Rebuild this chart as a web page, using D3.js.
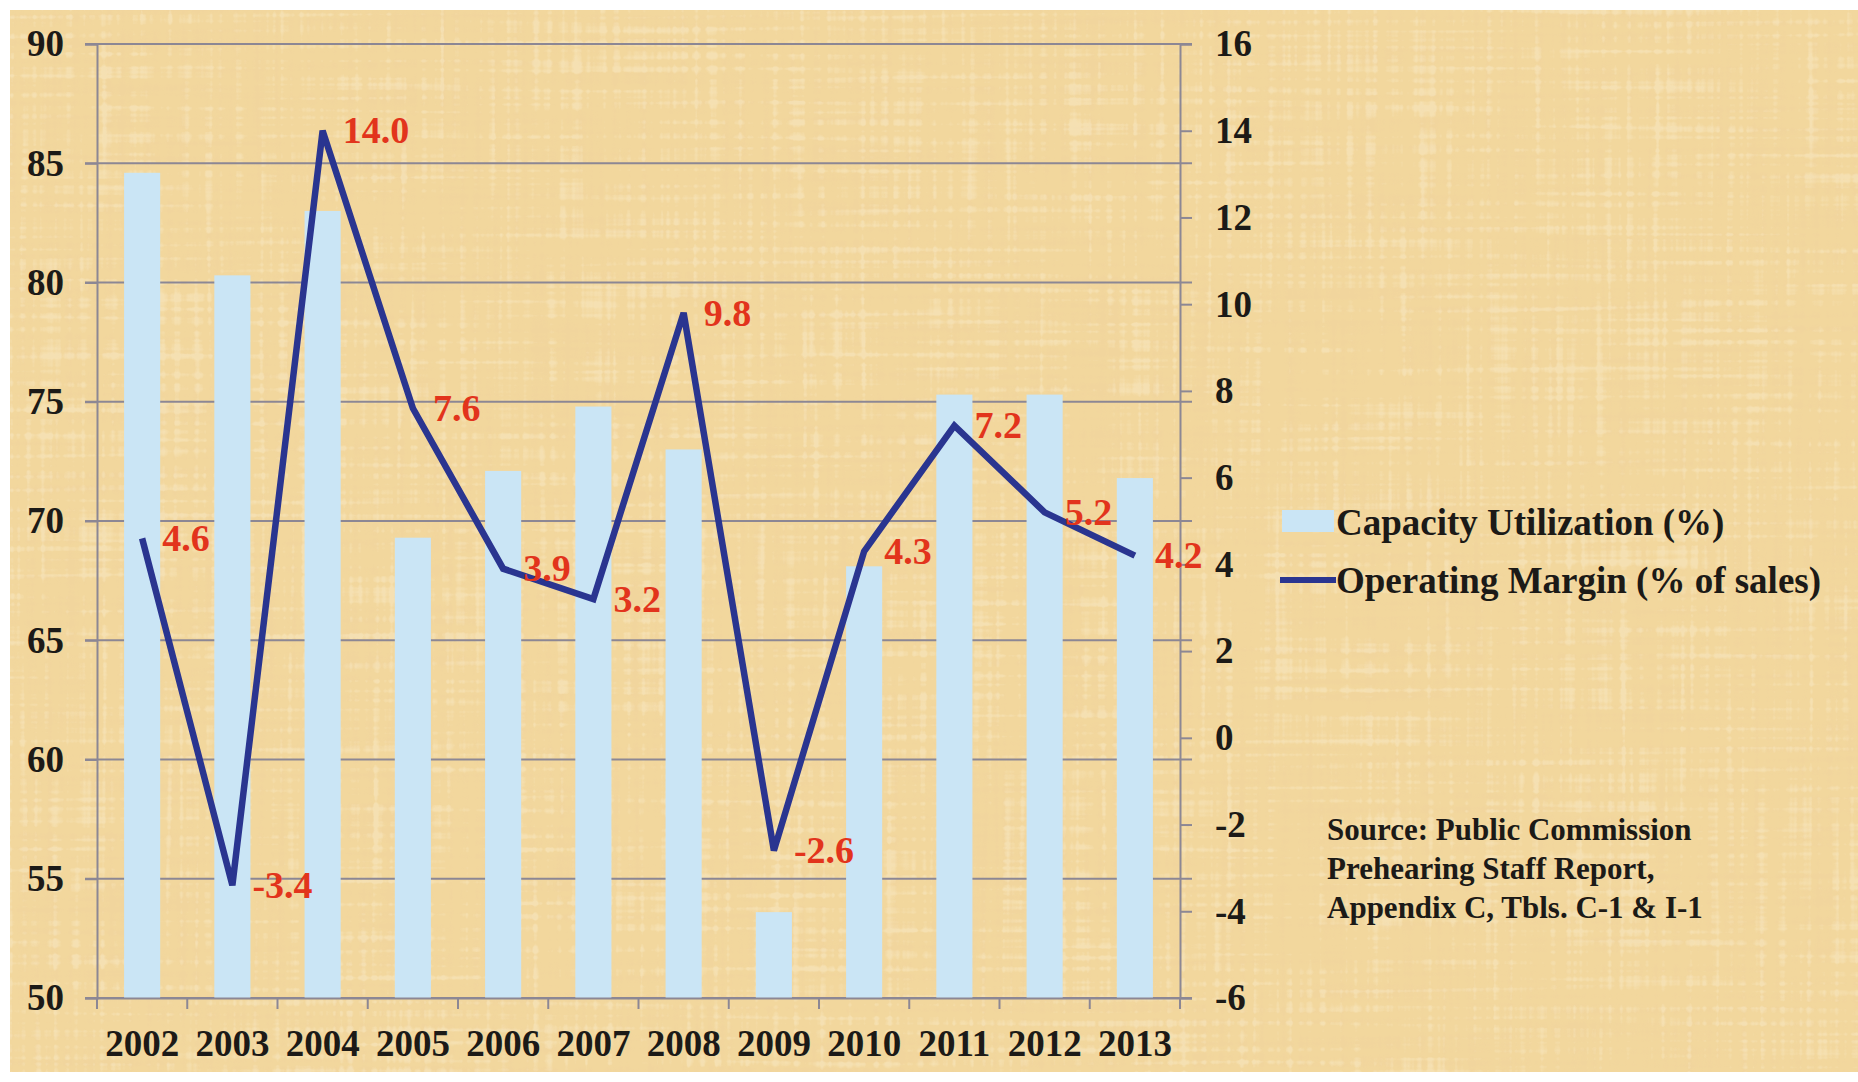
<!DOCTYPE html>
<html>
<head>
<meta charset="utf-8">
<script src="https://cdn.jsdelivr.net/npm/d3@7"></script>
<style>
  body { margin: 0; background: #ffffff; }
  svg { display: block; }
  text { font-family: 'Liberation Serif', 'Times New Roman', serif; font-weight: bold; }
</style>
</head>
<body>
<svg id="main"></svg>
<script>
// chart data
const years = ['2002', '2003', '2004', '2005', '2006', '2007', '2008', '2009', '2010', '2011', '2012', '2013']
const capacity = [84.6, 80.3, 83.0, 69.3, 72.1, 74.8, 73.0, 53.6, 68.1, 75.3, 75.3, 71.8]
const opMargin = [4.6, -3.4, 14.0, 7.6, 3.9, 3.2, 9.8, -2.6, 4.3, 7.2, 5.2, 4.2]
const leftTicks = [50, 55, 60, 65, 70, 75, 80, 85, 90]
const rightTicks = [-6, -4, -2, 0, 2, 4, 6, 8, 10, 12, 14, 16]
const legendLabels = ['Capacity Utilization (%)', 'Operating Margin (% of sales)']
const sourceLines = ['Source: Public Commission', 'Prehearing Staff Report,', 'Appendix C, Tbls. C-1 & I-1']

let width = 1858
let height = 1082
let plotLeft = 97
let plotRight = 1180
let plotTop = 44
let plotBottom = 998

let gridColor = '#8c8794'
let inkColor = '#1c1a17'

let svg = d3.select('#main')
    .attr('width', width)
    .attr('height', height)

let xScale, yLeft, yRight

// papyrus-ish paper: two stretched noise fields, one dark, one light
const paperFilter = (defs, id, seedH, seedV, rgb, a, b) => {
    let f = defs.append('filter').attr('id', id)
        .attr('x', 0).attr('y', 0).attr('width', '100%').attr('height', '100%')
    f.append('feTurbulence').attr('type', 'fractalNoise')
        .attr('baseFrequency', '0.004 0.15').attr('numOctaves', 2).attr('seed', seedH).attr('result', 'h')
    f.append('feTurbulence').attr('type', 'fractalNoise')
        .attr('baseFrequency', '0.15 0.004').attr('numOctaves', 2).attr('seed', seedV).attr('result', 'v')
    f.append('feComposite').attr('in', 'h').attr('in2', 'v').attr('operator', 'arithmetic')
        .attr('k2', 0.5).attr('k3', 0.5).attr('result', 'mix')
    f.append('feColorMatrix').attr('in', 'mix').attr('type', 'matrix')
        .attr('values', `0 0 0 0 ${rgb[0]}  0 0 0 0 ${rgb[1]}  0 0 0 0 ${rgb[2]}  ${a} 0 0 0 ${b}`)
}

const drawBackground = () => {
    let defs = svg.append('defs')
    paperFilter(defs, 'paperDark', 3, 7, [0.88, 0.66, 0.34], 7, -3.4)
    paperFilter(defs, 'paperLight', 11, 19, [0.99, 0.93, 0.76], -7, 3.3)

    let bg = svg.append('g')
    bg.append('rect')
        .attr('x', 10).attr('y', 10)
        .attr('width', width - 10).attr('height', height - 20)
        .attr('fill', '#f2d79d')
    bg.append('rect')
        .attr('x', 10).attr('y', 10)
        .attr('width', width - 10).attr('height', height - 20)
        .attr('filter', 'url(#paperDark)')
        .attr('opacity', 0.5)
    bg.append('rect')
        .attr('x', 10).attr('y', 10)
        .attr('width', width - 10).attr('height', height - 20)
        .attr('filter', 'url(#paperLight)')
        .attr('opacity', 0.3)
}

const generateScales = () => {
    xScale = d3.scaleBand()
        .domain(years)
        .range([plotLeft, plotRight])
        .padding(0)
    yLeft = d3.scaleLinear()
        .domain([50, 90])
        .range([plotBottom, plotTop])
    yRight = d3.scaleLinear()
        .domain([-6, 16])
        .range([plotBottom, plotTop])
}

const drawGrid = () => {
    svg.append('g')
        .selectAll('line')
        .data(leftTicks)
        .enter()
        .append('line')
        .attr('x1', plotLeft - 12)
        .attr('x2', plotRight + 12)
        .attr('y1', d => yLeft(d))
        .attr('y2', d => yLeft(d))
        .attr('stroke', gridColor)
        .attr('stroke-width', 2)
}

const plotBars = () => {
    let bw = xScale.bandwidth()
    svg.append('g')
        .selectAll('rect')
        .data(years)
        .enter()
        .append('rect')
        .attr('x', d => xScale(d) + bw * 0.3)
        .attr('width', bw * 0.4)
        .attr('y', (d, i) => yLeft(capacity[i]))
        .attr('height', (d, i) => yLeft(50) - yLeft(capacity[i]))
        .attr('fill', '#cae5f5')
}

const drawAxes = () => {
    // left
    let yAxisL = d3.axisLeft(yLeft).tickValues(leftTicks).tickSize(12)
    let gl = svg.append('g')
        .attr('transform', `translate(${plotLeft}, 0)`)
        .call(yAxisL)
    gl.selectAll('line').attr('stroke', gridColor).attr('stroke-width', 2)
    gl.select('.domain').attr('stroke', gridColor).attr('stroke-width', 2)
    gl.selectAll('text')
        .attr('font-size', 37).attr('fill', inkColor)
        .attr('x', -33)

    // right
    let yAxisR = d3.axisRight(yRight).tickValues(rightTicks).tickSize(12)
    let gr = svg.append('g')
        .attr('transform', `translate(${plotRight}, 0)`)
        .call(yAxisR)
    gr.selectAll('line').attr('stroke', gridColor).attr('stroke-width', 2)
    gr.select('.domain').attr('stroke', gridColor).attr('stroke-width', 2)
    gr.selectAll('text')
        .attr('font-size', 37).attr('fill', inkColor)
        .attr('x', 35)
        .text(d => d)

    // bottom
    let xAxis = d3.axisBottom(xScale).tickSize(0).tickPadding(32)
    let gb = svg.append('g')
        .attr('transform', `translate(0, ${plotBottom})`)
        .call(xAxis)
    gb.select('.domain').attr('stroke', gridColor).attr('stroke-width', 2)
    gb.selectAll('text').attr('font-size', 37).attr('fill', inkColor)

    let bounds = years.map(d => xScale(d)).concat([xScale.range()[1]])
    gb.selectAll('.bound')
        .data(bounds)
        .enter()
        .append('line')
        .attr('class', 'bound')
        .attr('x1', d => d).attr('x2', d => d)
        .attr('y1', 0).attr('y2', 11)
        .attr('stroke', gridColor)
        .attr('stroke-width', 2)
}

const plotLine = () => {
    let cx = d => xScale(d) + xScale.bandwidth() / 2
    let line = d3.line()
        .x(d => cx(d))
        .y((d, i) => yRight(opMargin[i]))
    svg.append('path')
        .datum(years)
        .attr('d', line)
        .attr('fill', 'none')
        .attr('stroke', '#2a3590')
        .attr('stroke-width', 6.5)
        .attr('stroke-linejoin', 'miter')

    svg.append('g')
        .selectAll('text')
        .data(years)
        .enter()
        .append('text')
        .attr('x', d => cx(d) + 20)
        .attr('y', (d, i) => yRight(opMargin[i]) + 4)
        .attr('dominant-baseline', 'middle')
        .attr('font-size', 38)
        .attr('fill', '#e2341c')
        .text((d, i) => opMargin[i].toFixed(1))
}

const drawLegend = () => {
    let g = svg.append('g')
    g.append('rect')
        .attr('x', 1282).attr('y', 510)
        .attr('width', 52).attr('height', 22)
        .attr('fill', '#cae5f5')
    g.append('text')
        .attr('x', 1336).attr('y', 535)
        .attr('font-size', 37).attr('fill', inkColor)
        .text(legendLabels[0])
    g.append('line')
        .attr('x1', 1280).attr('x2', 1336)
        .attr('y1', 580).attr('y2', 580)
        .attr('stroke', '#2a3590').attr('stroke-width', 6)
    g.append('text')
        .attr('x', 1336).attr('y', 593)
        .attr('font-size', 37).attr('fill', inkColor)
        .text(legendLabels[1])

    svg.append('g')
        .selectAll('text')
        .data(sourceLines)
        .enter()
        .append('text')
        .attr('x', 1327)
        .attr('y', (d, i) => 840 + i * 39)
        .attr('font-size', 31)
        .attr('fill', inkColor)
        .text(d => d)
}

drawBackground()
generateScales()
drawGrid()
plotBars()
drawAxes()
plotLine()
drawLegend()
</script>
</body>
</html>
